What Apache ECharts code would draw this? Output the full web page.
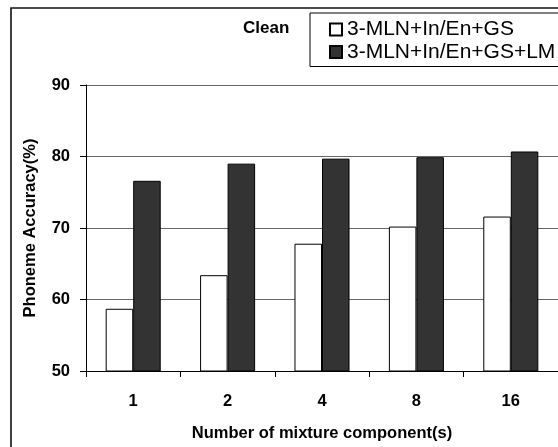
<!DOCTYPE html>
<html>
<head>
<meta charset="utf-8">
<script src="https://cdn.jsdelivr.net/npm/echarts@6/dist/echarts.min.js"></script>
<style>
  html, body { margin: 0; padding: 0; background: #fff; }
  #chart { width: 558px; height: 447px; }
</style>
</head>
<body>
<div id="chart"></div>
<script>
// Mixture component counts on the x axis
const categories = ['1', '2', '4', '8', '16'];
// Phoneme accuracy (%) per configuration
const baseSeriesName = '3-MLN+In/En+GS';
const baseValues = [58.7, 63.4, 67.8, 70.2, 71.6];
const lmSeriesName = '3-MLN+In/En+GS+LM';
const lmValues = [76.6, 79.0, 79.7, 79.9, 80.7];
// Y axis range and step
const yMin = 50;
const yMax = 90;
const yStep = 10;

const FONT = "'Liberation Sans', Arial, sans-serif";

const chart = echarts.init(document.getElementById('chart'), null, { renderer: 'canvas' });

chart.setOption({
  animation: false,
  backgroundColor: '#fff',
  textStyle: { fontFamily: FONT, color: '#000' },
  grid: { left: 86, top: 85, width: 474, bottom: 75, containLabel: false },
  graphic: [
    {
      type: 'rect',
      z: -10,
      silent: true,
      shape: { x: 11, y: 8, width: 700, height: 700 },
      style: { fill: 'none', stroke: '#111', lineWidth: 1.6 }
    },
    {
      type: 'text',
      left: 243,
      top: 20,
      silent: true,
      style: { text: 'Clean', font: "bold 17px " + FONT, fill: '#000' }
    }
  ],
  legend: {
    orient: 'vertical',
    left: 310,
    top: 13,
    padding: [6, 20, 4, 19],
    itemGap: 1.5,
    itemWidth: 12,
    itemHeight: 12,
    icon: 'rect',
    borderColor: '#000',
    borderWidth: 1,
    backgroundColor: '#fff',
    textStyle: { fontFamily: FONT, fontSize: 21, color: '#000' },
    data: [baseSeriesName, lmSeriesName]
  },
  xAxis: {
    type: 'category',
    data: categories,
    name: 'Number of mixture component(s)',
    nameLocation: 'middle',
    nameGap: 54,
    nameTextStyle: { fontFamily: FONT, fontSize: 16.5, fontWeight: 'bold', color: '#000' },
    axisLine: { lineStyle: { color: '#000', width: 1 } },
    axisTick: { show: true, length: 6, inside: false, lineStyle: { color: '#000' } },
    axisLabel: { fontFamily: FONT, fontSize: 16.5, fontWeight: 'bold', color: '#000', margin: 22 },
    splitLine: { show: false }
  },
  yAxis: {
    type: 'value',
    min: yMin,
    max: yMax,
    interval: yStep,
    name: 'Phoneme Accuracy(%)',
    nameLocation: 'middle',
    nameRotate: 90,
    nameGap: 47,
    nameTextStyle: { fontFamily: FONT, fontSize: 16.5, fontWeight: 'bold', color: '#000' },
    axisLine: { show: true, lineStyle: { color: '#000', width: 1 } },
    axisTick: { show: true, length: 6, inside: false, lineStyle: { color: '#000' } },
    axisLabel: { fontFamily: FONT, fontSize: 16.5, fontWeight: 'bold', color: '#000', margin: 16 },
    splitLine: { show: true, lineStyle: { color: '#666', width: 1 } }
  },
  series: [
    {
      name: baseSeriesName,
      type: 'bar',
      data: baseValues,
      barGap: '0%',
      barCategoryGap: '41.7%',
      itemStyle: { color: '#fff', borderColor: '#000', borderWidth: 1 }
    },
    {
      name: lmSeriesName,
      type: 'bar',
      data: lmValues,
      barGap: '0%',
      barCategoryGap: '41.7%',
      itemStyle: { color: '#333', borderColor: '#000', borderWidth: 1 }
    }
  ]
});
</script>
</body>
</html>
